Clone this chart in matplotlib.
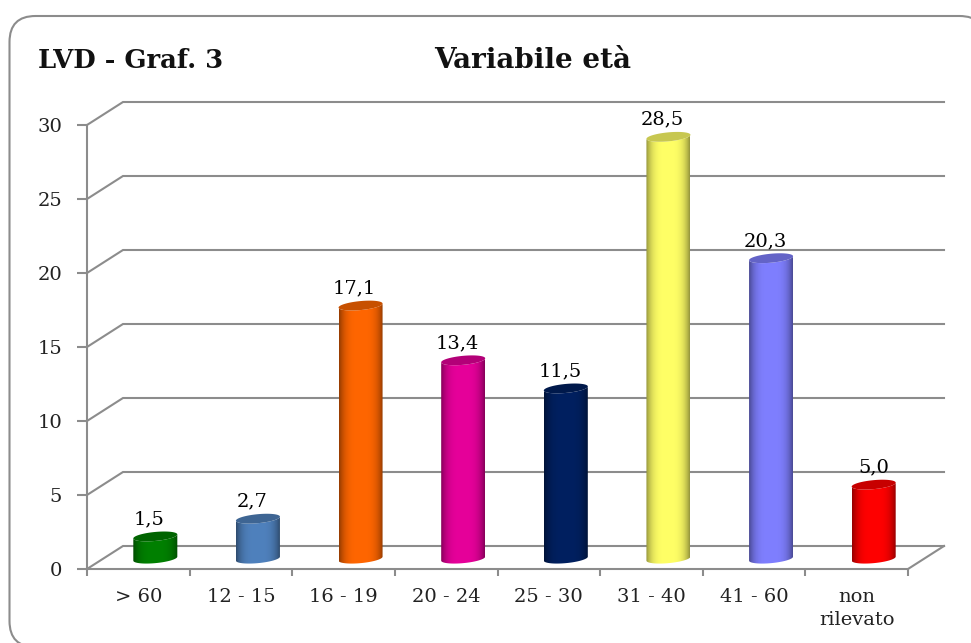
import matplotlib
matplotlib.use("Agg")
import matplotlib.pyplot as plt
import numpy as np
from matplotlib.patches import FancyBboxPatch
from matplotlib.path import Path
from matplotlib.transforms import IdentityTransform

categories = ["> 60", "12 - 15", "16 - 19", "20 - 24", "25 - 30", "31 - 40", "41 - 60", "non\nrilevato"]
values = [1.5, 2.7, 17.1, 13.4, 11.5, 28.5, 20.3, 5.0]
value_labels = ["1,5", "2,7", "17,1", "13,4", "11,5", "28,5", "20,3", "5,0"]
colors = ["#008000", "#4f81bd", "#ff6600", "#e6009a", "#002060", "#ffff66", "#7f7fff", "#ff0000"]
yticks = [0, 5, 10, 15, 20, 25, 30]

W, H = 971, 643
L, R, T, B = 87, 908, 125, 569
GREY = "#8c8c8c"
plt.rcParams["font.family"] = "DejaVu Serif"

fig = plt.figure(figsize=(W / 100, H / 100), dpi=100)
fig.patch.set_facecolor("white")

# rounded frame, runs off the picture at the bottom and right
frame = FancyBboxPatch((9.5, -4), 976, H - 16 + 4,
                       boxstyle="round,pad=0,rounding_size=26",
                       transform=IdentityTransform(), fc="white", ec=GREY, lw=1.5, zorder=-1)
fig.add_artist(frame)

ax = fig.add_axes([L / W, (H - B) / H, (R - L) / W, (B - T) / H])
ax.patch.set_alpha(0)
ax.set_xlim(0, 8)
ax.set_ylim(0, 30)

# pixel sizes in data units
px = 8 / (R - L)
py = 30 / (B - T)
depth_x = 36 * px
depth_y = 23 * py

for s in ["top", "right"]:
    ax.spines[s].set_visible(False)
for s in ["left", "bottom"]:
    ax.spines[s].set_color(GREY)
    ax.spines[s].set_linewidth(1.5)

# side wall and back wall lines
for v in yticks:
    ax.plot([0, depth_x, 8 + depth_x], [v, v + depth_y, v + depth_y], color=GREY, lw=1.5,
            clip_on=False, zorder=1, solid_joinstyle="miter")
ax.plot([8, 8 + depth_x], [0, depth_y], color=GREY, lw=1.5, clip_on=False, zorder=1)


def ellipse_y(x, xc, yc, half, minor, front):
    t = (x - xc) / half
    sign = -1 if front else 1
    return yc + sign * minor * np.sqrt(np.clip(1 - t**2, 0, 1)) + 2 * py * t


half = 22 * px
minor = 4.5 * py
base = 0.7
offset = 17 * px

for i, v in enumerate(values):
    c = np.array(matplotlib.colors.to_rgb(colors[i]))
    xc = i + 0.5 + offset
    top = v + base
    xs = xc + half * np.sin(np.linspace(-np.pi / 2, np.pi / 2, 80))

    # body: lower front edge, then front edge of the top ellipse
    px_body = np.concatenate([xs, xs[::-1]])
    py_body = np.concatenate([ellipse_y(xs, xc, base, half, minor, True),
                              ellipse_y(xs[::-1], xc, top, half, minor, True)])
    verts = np.column_stack([px_body, py_body])
    clip = Path(np.vstack([verts, verts[0]]), closed=True)

    # shading across the cylinder
    t = np.linspace(-1, 1, 100)
    shade = np.abs(t) ** 3.5
    grad = (c[None, :] * (1 - 0.42 * shade[:, None]))[None, :, :]
    im = ax.imshow(grad, extent=[xc - half, xc + half, base - minor * 2, top + minor * 2],
                   aspect="auto", zorder=3, interpolation="bilinear")
    im.set_clip_path(clip, ax.transData)

    # darker cap
    cap_x = np.concatenate([xs, xs[::-1]])
    cap_y = np.concatenate([ellipse_y(xs, xc, top, half, minor, True),
                            ellipse_y(xs[::-1], xc, top, half, minor, False)])
    ax.fill(cap_x, cap_y, color=c * 0.78, lw=0, zorder=4)

    ax.annotate(value_labels[i], (xc, top), xytext=(-6 if i < 7 else 0, 17), textcoords="offset pixels",
                ha="center", va="center", fontsize=14, color="black", zorder=5, annotation_clip=False)

ax.set_xlim(0, 8)
ax.set_ylim(0, 30)

ax.set_yticks(yticks)
ax.set_xticks(range(9))
ax.set_xticklabels([])
ax.set_xticks(np.arange(8) + 0.5, categories, minor=True)
ax.tick_params(axis="x", which="minor", length=0, pad=14, labelsize=14, colors="#222222")
ax.tick_params(axis="x", which="major", length=5, width=1.5, color=GREY)
ax.tick_params(axis="y", length=7, width=1.5, color=GREY, labelsize=14, pad=11, labelcolor="#222222")
for lab in ax.get_xticklabels(minor=True):
    lab.set_linespacing(1.35)

fig.text(38 / W, (H - 61) / H, "LVD - Graf. 3", fontsize=18.6, fontweight="bold", va="center", color="#111111")
fig.text(533 / W, (H - 61) / H, "Variabile età", fontsize=20, fontweight="bold", va="center", ha="center", color="#111111")

fig.savefig("out.png", dpi=100)
